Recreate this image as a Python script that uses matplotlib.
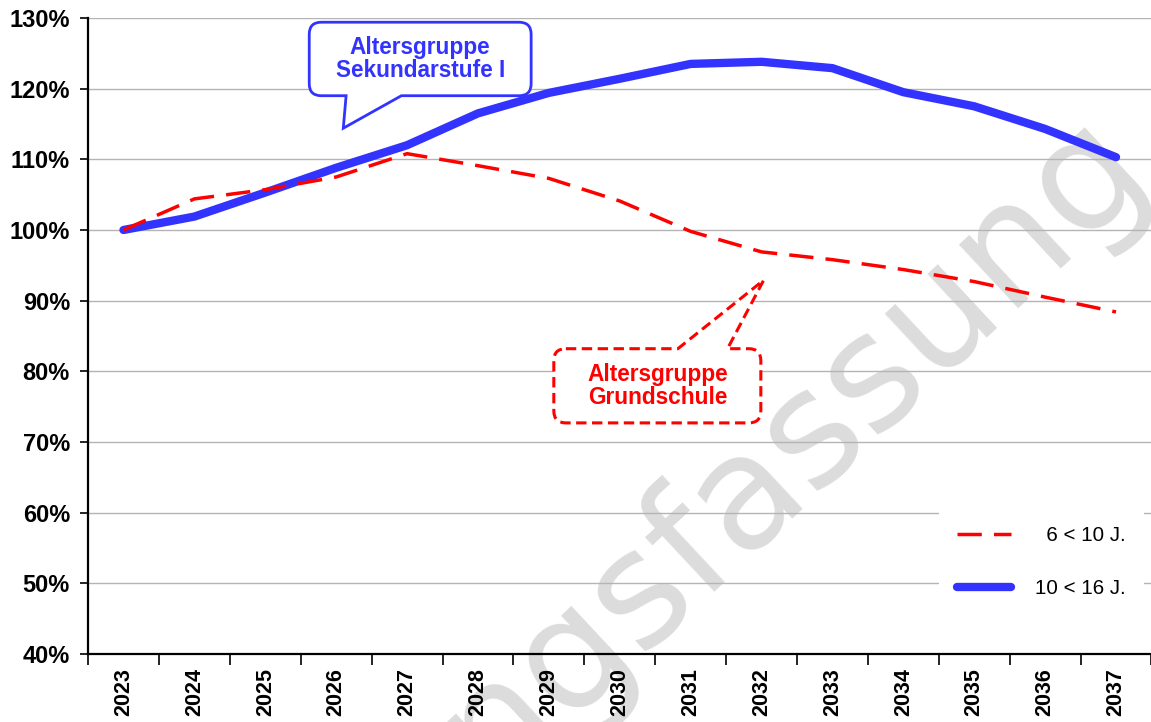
import numpy as np
import matplotlib
matplotlib.use("Agg")
import matplotlib.pyplot as plt
from matplotlib.path import Path
from matplotlib.patches import PathPatch

plt.rcParams['font.family'] = ['Liberation Sans', 'DejaVu Sans']

# --- Daten (Index 2023 = 100 %) ---
years = ['2023', '2024', '2025', '2026', '2027', '2028', '2029', '2030',
         '2031', '2032', '2033', '2034', '2035', '2036', '2037']
grundschule = [100.0, 104.4, 105.7, 107.5, 110.8, 109.1, 107.3, 104.1,
               99.8, 96.9, 95.8, 94.4, 92.7, 90.5, 88.4]          # 6 < 10 J.
sekundarstufe = [100.0, 101.9, 105.3, 108.8, 112.0, 116.5, 119.4, 121.4,
                 123.5, 123.8, 122.9, 119.5, 117.5, 114.3, 110.3]  # 10 < 16 J.
y_ticks = [40, 50, 60, 70, 80, 90, 100, 110, 120, 130]
legend_labels = ['\u20076 < 10 J.', '10 < 16 J.']
callout_texts = ['Altersgruppe\nSekundarstufe I', 'Altersgruppe\nGrundschule']
watermark = 'Anhörungsfassung'

RED = '#ff0000'
BLUE = '#3333ff'


def callout_path(x0, x1, y0, y1, rx, ry, side, b0, b1, tip):
    """Abgerundeter Kasten mit Zeiger oben oder unten."""
    M, L, C, Z = Path.MOVETO, Path.LINETO, Path.CURVE3, Path.CLOSEPOLY
    verts = [(x0 + rx, y1)]
    codes = [M]
    if side == 'top':
        verts += [(b0, y1), tip, (b1, y1)]
        codes += [L, L, L]
    verts += [(x1 - rx, y1), (x1, y1), (x1, y1 - ry), (x1, y0 + ry),
              (x1, y0), (x1 - rx, y0)]
    codes += [L, C, C, L, C, C]
    if side == 'bottom':
        verts += [(b1, y0), tip, (b0, y0)]
        codes += [L, L, L]
    verts += [(x0 + rx, y0), (x0, y0), (x0, y0 + ry), (x0, y1 - ry),
              (x0, y1), (x0 + rx, y1), (x0 + rx, y1)]
    codes += [L, C, C, L, C, C, Z]
    return Path(verts, codes)


fig = plt.figure(figsize=(11.51, 7.22), dpi=100)
ax = fig.add_axes([0.0765, 0.0942, 0.9239, 0.8809])
ax.set_facecolor('none')

x = np.arange(len(years))

# Wasserzeichen hinter allem
fig.text(1.0035, 0.752, watermark, rotation=43, rotation_mode='anchor',
         ha='right', va='baseline', fontsize=114, color='#dcdcdc',
         family='DejaVu Sans', zorder=-1)

ax.plot(x, sekundarstufe, color=BLUE, lw=6, solid_capstyle='round',
        solid_joinstyle='round', label=legend_labels[1], zorder=3)
ax.plot(x, grundschule, color=RED, lw=2.5, linestyle=(0, (7, 3.5)),
        label=legend_labels[0], zorder=4)

ax.set_xlim(-0.5, len(years) - 0.5)
ax.set_ylim(40, 130)

ax.set_yticks(y_ticks)
ax.set_yticklabels([f'{v}%' for v in y_ticks], fontsize=17, fontweight='bold')
ax.tick_params(axis='y', length=6, width=1.2, pad=7)

ax.set_xticks(x)
ax.set_xticklabels(years, rotation=90, fontsize=15.5, fontweight='bold')
ax.tick_params(axis='x', which='major', length=0, pad=10)
ax.set_xticks(np.arange(-0.5, len(years), 1.0), minor=True)
ax.tick_params(axis='x', which='minor', length=8, width=1.2, direction='out')

ax.grid(axis='y', color='#b4b4b4', lw=1.0)
ax.set_axisbelow(True)
for s in ['top', 'right']:
    ax.spines[s].set_visible(False)
for s in ['left', 'bottom']:
    ax.spines[s].set_linewidth(1.6)
    ax.spines[s].set_color('black')

# Sprechblasen
rx, ry = 0.17, 1.7
p_blue = callout_path(2.62, 5.75, 119.0, 129.4, rx, ry, 'bottom',
                      3.14, 3.92, (3.10, 114.4))
ax.add_patch(PathPatch(p_blue, facecolor='white', edgecolor=BLUE, lw=2.0,
                       zorder=5))
ax.text((2.62 + 5.75) / 2, (119.0 + 129.4) / 2, callout_texts[0],
        ha='center', va='center', color=BLUE, fontsize=16.3,
        fontweight='bold', linespacing=1.0, zorder=6)

p_red = callout_path(6.07, 8.99, 72.7, 83.2, rx, ry, 'top',
                     7.82, 8.52, (9.03, 92.9))
ax.add_patch(PathPatch(p_red, facecolor='white', edgecolor=RED, lw=2.2,
                       linestyle=(0, (3.4, 1.8)), zorder=5))
ax.text((6.07 + 8.99) / 2, (72.7 + 83.2) / 2, callout_texts[1],
        ha='center', va='center', color=RED, fontsize=16.3,
        fontweight='bold', linespacing=1.0, zorder=6)

handles, labels = ax.get_legend_handles_labels()
leg = ax.legend(handles[::-1], labels[::-1], loc='center right',
                bbox_to_anchor=(1.003, 0.145), fontsize=14.8, frameon=True,
                facecolor='white', edgecolor='none', framealpha=1,
                fancybox=False, handlelength=2.6, handletextpad=1.2,
                labelspacing=1.65, borderpad=0.9)
leg.set_zorder(6)

fig.savefig('out.png', dpi=100)
